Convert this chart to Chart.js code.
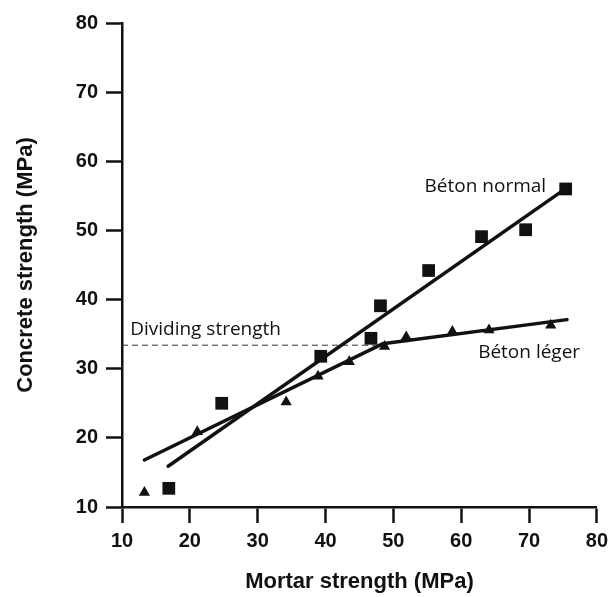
<!DOCTYPE html>
<html>
<head>
<meta charset="utf-8">
<script src="https://cdn.jsdelivr.net/npm/chart.js@4"></script>
<style>
  html, body { margin: 0; padding: 0; background: #fff; }
  #wrap { width: 614px; height: 597px; }
</style>
</head>
<body>
<div id="wrap"><canvas id="myChart" width="614" height="597"></canvas></div>
<script>
// Béton normal (squares)
var normalX = [16.9, 24.7, 39.3, 46.7, 48.1, 55.2, 63.0, 69.5, 75.4];
var normalY = [12.7, 25.0, 31.8, 34.4, 39.1, 44.2, 49.1, 50.1, 56.0];
// Béton léger (triangles)
var legerX = [13.3, 21.1, 34.2, 38.9, 43.5, 48.7, 51.9, 58.7, 64.1, 73.2];
var legerY = [12.1, 20.9, 25.2, 28.9, 31.0, 33.2, 34.6, 35.4, 35.6, 36.3];
// fitted lines
var normalFitX = [16.8, 75.6];
var normalFitY = [15.9, 56.2];
var legerFitX = [13.3, 48.4, 75.6];
var legerFitY = [16.8, 33.6, 37.1];
// dividing strength
var dividingX = [10, 48.4];
var dividingY = [33.4, 33.4];
var tickValues = [10, 20, 30, 40, 50, 60, 70, 80];

const ctx = document.getElementById('myChart');
const black = '#111';

function toPoints(xs, ys) {
  var pts = [];
  for (var i = 0; i < xs.length; i++) {
    pts.push({ x: xs[i], y: ys[i] });
  }
  return pts;
}

// labels written next to the lines, placed in data units
var notes = [
  { text: 'Béton normal', x: 54.6, y: 55.6 },
  { text: 'Béton léger', x: 62.5, y: 31.5 },
  { text: 'Dividing strength', x: 11.2, y: 34.9 }
];

const notePlugin = {
  id: 'notes',
  afterDatasetsDraw(chart) {
    const c = chart.ctx;
    const xs = chart.scales.x, ys = chart.scales.y;
    c.save();
    c.fillStyle = black;
    c.font = '19px "Open Sans", Lato, sans-serif';
    c.textAlign = 'left';
    c.textBaseline = 'alphabetic';
    notes.forEach(function (n) {
      c.fillText(n.text, xs.getPixelForValue(n.x), ys.getPixelForValue(n.y));
    });
    c.restore();
  }
};

const tickFont = { family: '"Liberation Sans", Arial, sans-serif', size: 20, weight: 'bold' };
const titleFont = { family: '"Liberation Sans", Arial, sans-serif', size: 22, weight: 'bold' };

function axis(title, isY) {
  return {
    type: 'linear',
    min: 10,
    max: 80,
    afterBuildTicks: function (scale) {
      scale.ticks = tickValues.map(function (v) { return { value: v }; });
    },
    afterFit: function (scale) {
      if (isY) scale.width = 122; else scale.height = 90;
    },
    border: { display: true, color: black, width: 2.5 },
    grid: {
      drawOnChartArea: false,
      drawTicks: true,
      tickLength: 16,
      tickWidth: 2.5,
      tickColor: black
    },
    ticks: {
      color: black,
      font: tickFont,
      padding: isY ? 8 : 6,
      maxRotation: 0
    },
    title: {
      display: true,
      text: title,
      color: black,
      font: titleFont,
      padding: isY ? { top: 13 } : { bottom: 2 }
    }
  };
}

new Chart(ctx, {
  type: 'scatter',
  data: {
    datasets: [
      {
        label: 'Béton normal',
        data: toPoints(normalX, normalY),
        pointStyle: 'rect',
        pointRadius: 9,
        backgroundColor: black,
        borderColor: black,
        borderWidth: 0
      },
      {
        label: 'Béton léger',
        data: toPoints(legerX, legerY),
        pointStyle: 'triangle',
        pointRadius: 6.5,
        backgroundColor: black,
        borderColor: black,
        borderWidth: 0
      },
      {
        label: 'Normal fit',
        data: toPoints(normalFitX, normalFitY),
        showLine: true,
        pointRadius: 0,
        borderColor: black,
        borderWidth: 3.5,
        borderCapStyle: 'round'
      },
      {
        label: 'Léger fit',
        data: toPoints(legerFitX, legerFitY),
        showLine: true,
        pointRadius: 0,
        borderColor: black,
        borderWidth: 3.5,
        borderCapStyle: 'round',
        borderJoinStyle: 'round'
      },
      {
        label: 'Dividing strength',
        data: toPoints(dividingX, dividingY),
        showLine: true,
        pointRadius: 0,
        borderColor: '#333',
        borderWidth: 1,
        borderDash: [6, 4]
      }
    ]
  },
  options: {
    responsive: false,
    animation: false,
    layout: { padding: { top: 23, right: 16, bottom: 0, left: 0 } },
    plugins: {
      legend: { display: false },
      tooltip: { enabled: false }
    },
    scales: {
      x: axis('Mortar strength (MPa)', false),
      y: axis('Concrete strength (MPa)', true)
    }
  },
  plugins: [notePlugin]
});
</script>
</body>
</html>
